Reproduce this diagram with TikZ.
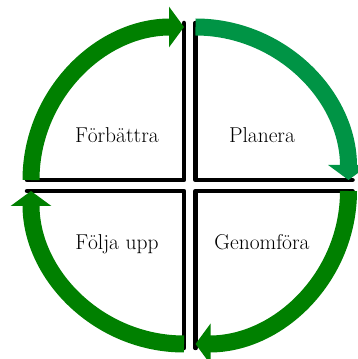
\documentclass[tikz,border=0pt]{standalone}
\usepackage{tikz}
\usetikzlibrary{arrows.meta,calc}
\definecolor{cycgreen}{RGB}{0,128,0}
\definecolor{cyclight}{RGB}{0,148,69}

\begin{document}
\begin{tikzpicture}[
      x=1pt, y=1pt,
      font=\fontsize{21.5}{25}\selectfont,
      quad/.style={draw=black, line width=4.5pt, line cap=round, line join=round},
      cyc/.style={line width=17pt, draw=cycgreen, -{Triangle[length=15pt,width=40pt]}},
      lbl/.style={anchor=base, inner sep=0pt},
    ]
      \useasboundingbox (0,0) rectangle (358,359);
      \coordinate (tl) at (184,179);
      \coordinate (tr) at (195.5,179);
      \coordinate (bl) at (184,168);
      \coordinate (br) at (195.5,168);
      \draw[quad] ($(tl)+(-157,0)$) -- (tl) -- ($(tl)+(0,157)$);
      \draw[quad] ($(tr)+(0,157)$) -- (tr) -- ($(tr)+(157,0)$);
      \draw[quad] ($(br)+(157,0)$) -- (br) -- ($(br)+(0,-157)$);
      \draw[quad] ($(bl)+(0,-157)$) -- (bl) -- ($(bl)+(-157,0)$);
      \draw[cyc] ($(tl)+(-153,0)$) arc[start angle=180, end angle=90, radius=153];
      \draw[cyc, draw=cyclight] ($(tr)+(0,153)$) arc[start angle=90, end angle=0, radius=153];
      \draw[cyc] ($(br)+(153,0)$) arc[start angle=0, end angle=-90, radius=153];
      \draw[cyc] ($(bl)+(0,-153)$) arc[start angle=270, end angle=180, radius=153];
      \node[lbl] (forb) at (117,216) {Förbättra};
      \node[lbl] (plan) at (262,216) {Planera};
      \node[lbl] (folj) at (117,109) {Följa upp};
      \node[lbl] (genom) at (262,109) {Genomföra};
    \end{tikzpicture}
\end{document}
